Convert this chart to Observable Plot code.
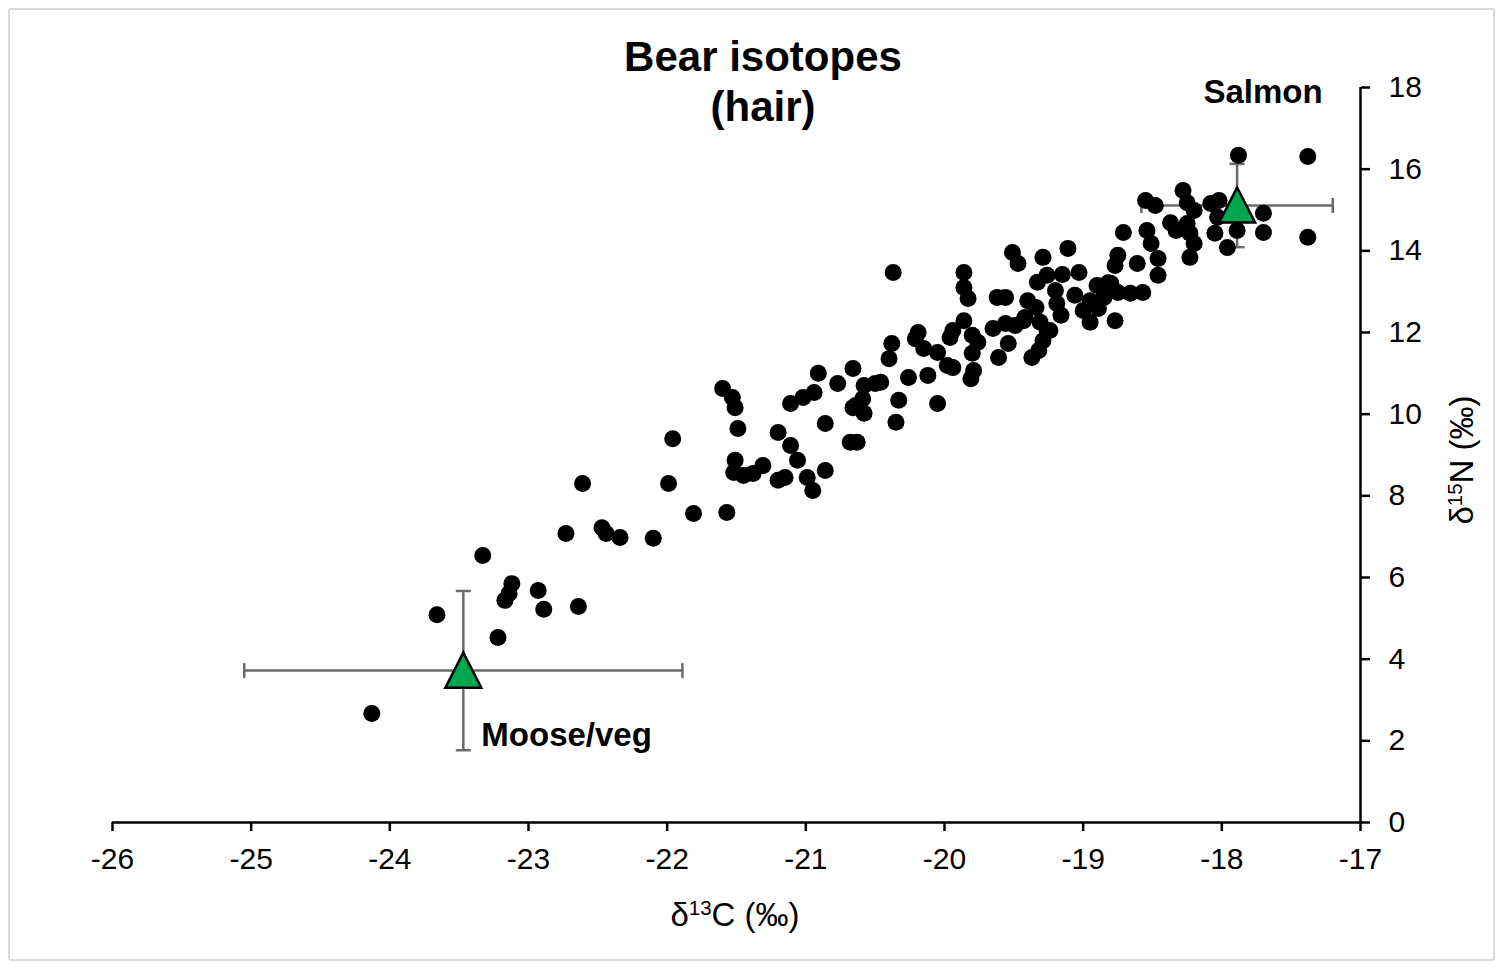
<!DOCTYPE html>
<html>
<head>
<meta charset="utf-8">
<script src="https://cdn.jsdelivr.net/npm/d3@7"></script>
<script src="https://cdn.jsdelivr.net/npm/@observablehq/plot@0.6"></script>
<style>
  html, body { margin: 0; padding: 0; background: #fff; }
  #wrap { position: relative; width: 1505px; height: 970px; overflow: hidden; font-family: "Liberation Sans", Arial, sans-serif; color: #000; }
  #frame { position: absolute; left: 8px; top: 8px; width: 1487px; height: 953px; border: 2px solid #d9d9d9; border-radius: 3px; box-sizing: border-box; }
  #title { position: absolute; left: 463px; top: 32px; width: 600px; text-align: center; font-weight: bold; font-size: 42px; line-height: 50px; }
  .axlab { position: absolute; font-size: 33px; white-space: nowrap; line-height: 1; }
  .axlab sup { font-size: 0.62em; vertical-align: 0; position: relative; top: -0.55em; }
  #xlab { left: 535px; top: 898px; width: 400px; text-align: center; }
  #ylab { left: 1262px; top: 443px; width: 400px; text-align: center; transform: rotate(-90deg); transform-origin: 200px 17px; }
  #chart { position: absolute; left: 0; top: 0; }
</style>
</head>
<body>
<div id="wrap">
  <div id="frame"></div>
  <div id="chart"></div>
  <div id="title">Bear isotopes<br>(hair)</div>
  <div id="xlab" class="axlab">δ<sup>13</sup>C (‰)</div>
  <div id="ylab" class="axlab">δ<sup>15</sup>N (‰)</div>
</div>
<script>
// Bear hair isotope values (δ13C, δ15N)
const bearC = [
  -24.13, -23.66, -23.33, -23.22, -23.17, -23.14, -23.12, -22.93, -22.89, -22.64,
  -22.61, -22.73, -22.47, -22.44, -22.34, -22.10, -21.99, -21.96, -21.81, -21.57,
  -21.60, -21.53, -21.51, -21.49, -21.51, -21.52, -21.45, -21.38, -21.31, -21.20,
  -21.11, -21.06, -21.20, -21.15, -20.99, -20.95, -20.86, -21.11, -21.02, -20.94,
  -20.91, -20.77, -20.66, -20.86, -20.66, -20.59, -20.58, -20.58, -20.50, -20.68,
  -20.63, -20.37, -20.46, -20.38, -20.40, -20.26, -20.33, -20.35, -20.19, -20.21,
  -20.15, -20.05, -20.12, -20.05, -19.98, -19.94, -19.96, -19.94, -19.86, -19.86,
  -19.86, -19.83, -19.80, -19.76, -19.80, -19.79, -19.81, -19.65, -19.62, -19.56,
  -19.56, -19.54, -19.61, -19.49, -19.42, -19.51, -19.47, -19.29, -19.11, -19.33,
  -19.26, -19.15, -19.03, -19.40, -19.34, -19.20, -19.19, -19.16, -19.06, -19.31,
  -19.26, -19.29, -19.32, -19.37, -19.43, -19.00, -18.95, -18.90, -18.80, -18.85,
  -18.75, -18.66, -18.57, -18.77, -18.75, -18.77, -18.71, -18.61, -18.55, -18.48,
  -18.54, -18.51, -18.46, -18.46, -18.28, -18.25, -18.20, -18.37, -18.33, -18.25,
  -18.23, -18.20, -18.23, -18.08, -18.02, -18.03, -18.05, -17.96, -17.89, -17.70,
  -17.70, -17.88, -17.38, -17.38, -18.89, -20.64, -18.95, -18.82, -19.24
];
const bearN = [
   2.67,  5.09,  6.54,  4.53,  5.44,  5.61,  5.85,  5.68,  5.22,  5.29,
   8.30,  7.08,  7.22,  7.08,  6.98,  6.96,  8.30,  9.40,  7.57,  7.59,
  10.63, 10.41, 10.16,  9.65,  8.87,  8.57,  8.50,  8.55,  8.74,  9.55,
   9.23,  8.87,  8.38,  8.45,  8.45,  8.13,  8.62, 10.26, 10.41, 10.53,
  11.00, 10.75, 11.12,  9.77, 10.16, 10.38, 10.02, 10.70, 10.75,  9.31,
   9.31, 13.47, 10.78, 11.73, 11.36, 10.90, 10.34,  9.80, 12.00, 11.85,
  11.61, 11.51, 10.95, 10.26, 11.19, 11.14, 11.88, 12.05, 12.29, 13.47,
  13.10, 12.83, 11.93, 11.76, 11.49, 11.07, 10.87, 12.10, 12.86, 12.86,
  12.22, 11.73, 11.39, 12.17, 12.37, 13.96, 13.69, 13.84, 14.06, 13.23,
  13.40, 13.42, 13.47, 12.78, 12.61, 13.03, 12.71, 12.42, 12.91, 12.25,
  12.05, 11.80, 11.56, 11.39, 12.29, 12.54, 12.25, 13.15, 13.20, 12.86,
  12.98, 12.96, 12.98, 12.29, 13.89, 13.64, 14.45, 13.69, 15.23, 15.11,
  14.50, 14.18, 13.81, 13.40, 15.48, 15.18, 14.99, 14.69, 14.50, 14.67,
  14.43, 14.18, 13.84, 15.16, 15.23, 14.82, 14.43, 14.08, 14.50, 14.92,
  14.45, 16.34, 16.31, 14.33, 12.59, 10.21, 12.78, 13.22, 12.05
];

// Diet sources (mean ± SD)
const sourceNames = ["Moose/veg", "Salmon"];
const sourceC = [-23.47, -17.89];
const sourceN = [3.72, 15.11];
const sourceCsd = [1.58, 0.69];
const sourceNsd = [1.95, 1.02];

const xTicks = [-26, -25, -24, -23, -22, -21, -20, -19, -18, -17];
const yTicks = [0, 2, 4, 6, 8, 10, 12, 14, 16, 18];

const bears = bearC.map((c, i) => ({c, n: bearN[i]}));
const sources = sourceNames.map((name, i) => ({
  name, c: sourceC[i], n: sourceN[i], csd: sourceCsd[i], nsd: sourceNsd[i]
}));

const vbar = {draw(ctx, size) { const r = Math.sqrt(size / Math.PI); ctx.moveTo(0, -r); ctx.lineTo(0, r); }};
const hbar = {draw(ctx, size) { const r = Math.sqrt(size / Math.PI); ctx.moveTo(-r, 0); ctx.lineTo(r, 0); }};
const tri = {draw(ctx, size) { const r = Math.sqrt(size / Math.PI); ctx.moveTo(0, -r); ctx.lineTo(r, r * 0.95); ctx.lineTo(-r, r * 0.95); ctx.closePath(); }};

const barColor = "#6b6b6b";
const fmt = d => String(d);

const chart = Plot.plot({
  width: 1505,
  height: 970,
  marginLeft: 112,
  marginRight: 145,
  marginTop: 87,
  marginBottom: 148,
  x: {domain: [-26, -17]},
  y: {domain: [0, 18]},
  style: {fontFamily: "'Liberation Sans', Arial, sans-serif", fontSize: "30px", color: "#000", background: "transparent"},
  marks: [
    Plot.axisX({ticks: xTicks, tickFormat: fmt, tickSize: 9, tickPadding: 16, strokeWidth: 2.5, label: null}),
    Plot.axisY({anchor: "right", ticks: yTicks, tickFormat: fmt, tickSize: 9, tickPadding: 19, strokeWidth: 2.5, label: null}),
    Plot.ruleY([0], {stroke: "#000", strokeWidth: 2.5}),
    Plot.ruleX([-17], {stroke: "#000", strokeWidth: 2.5}),
    // error bars
    Plot.link(sources, {x1: d => d.c - d.csd, x2: d => d.c + d.csd, y1: "n", y2: "n", stroke: barColor, strokeWidth: 2.5}),
    Plot.link(sources, {x1: "c", x2: "c", y1: d => d.n - d.nsd, y2: d => d.n + d.nsd, stroke: barColor, strokeWidth: 2.5}),
    Plot.dot(sources, {x: d => d.c - d.csd, y: "n", symbol: vbar, r: 7.5, stroke: barColor, strokeWidth: 2.5, fill: "none"}),
    Plot.dot(sources, {x: d => d.c + d.csd, y: "n", symbol: vbar, r: 7.5, stroke: barColor, strokeWidth: 2.5, fill: "none"}),
    Plot.dot(sources, {x: "c", y: d => d.n - d.nsd, symbol: hbar, r: 7.5, stroke: barColor, strokeWidth: 2.5, fill: "none"}),
    Plot.dot(sources, {x: "c", y: d => d.n + d.nsd, symbol: hbar, r: 7.5, stroke: barColor, strokeWidth: 2.5, fill: "none"}),
    // bear hair points
    Plot.dot(bears, {x: "c", y: "n", r: 8.5, fill: "#000", stroke: "none"}),
    // source means
    Plot.dot(sources, {x: "c", y: "n", symbol: tri, r: 18, fill: "#00a651", stroke: "#000", strokeWidth: 2.5}),
    // source labels
    Plot.text(sources.filter(d => d.name === "Salmon"), {x: "c", y: "n", text: "name", dx: 26, dy: -113, fontWeight: "bold", fontSize: 33, textAnchor: "middle"}),
    Plot.text(sources.filter(d => d.name === "Moose/veg"), {x: "c", y: "n", text: "name", dx: 18, dy: 65, fontWeight: "bold", fontSize: 33, textAnchor: "start"})
  ]
});
document.getElementById("chart").appendChild(chart);
</script>
</body>
</html>
